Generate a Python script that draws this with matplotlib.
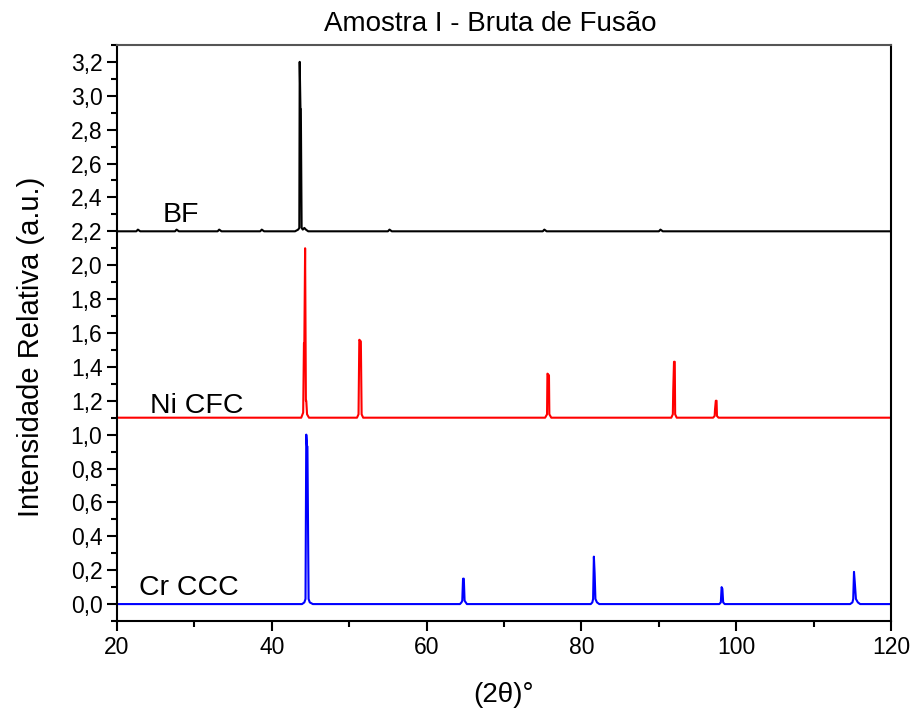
# XRD patterns - Amostra I (bruta de fusao)

import matplotlib.pyplot as plt
from matplotlib.ticker import MultipleLocator, FuncFormatter

plt.rcParams['font.family'] = ['Liberation Sans', 'DejaVu Sans']

# BF (black), baseline 2.2
bf_x = [20, 22.5, 22.7, 23, 27.5, 27.7, 28, 33, 33.2, 33.5, 38.5, 38.7, 39,
        43.0, 43.4, 43.55, 43.6, 43.7, 43.75, 43.85, 44.0, 44.2, 44.4, 44.7,
        55, 55.2, 55.5, 75, 75.2, 75.5, 90, 90.2, 90.5, 120]
bf_y = [2.2, 2.2, 2.21, 2.2, 2.2, 2.21, 2.2, 2.2, 2.21, 2.2, 2.2, 2.21, 2.2,
        2.2, 2.21, 2.22, 3.2, 2.92, 2.92, 2.22, 2.21, 2.22, 2.21, 2.2,
        2.2, 2.21, 2.2, 2.2, 2.21, 2.2, 2.2, 2.21, 2.2, 2.2]

# Ni CFC (red), baseline 1.1
ni_x = [20, 43.8, 44.05, 44.15, 44.2, 44.3, 44.4, 44.45, 44.55, 44.8,
        51.0, 51.2, 51.3, 51.5, 51.6, 51.8,
        75.3, 75.55, 75.6, 75.8, 75.85, 76.1,
        91.6, 91.8, 91.85, 91.95, 92.05, 92.1, 92.3,
        97.0, 97.2, 97.25, 97.35, 97.45, 97.5, 97.7, 120]
ni_y = [1.1, 1.1, 1.13, 1.54, 1.54, 2.1, 1.2, 1.2, 1.12, 1.1,
        1.1, 1.12, 1.56, 1.55, 1.12, 1.1,
        1.1, 1.12, 1.36, 1.35, 1.12, 1.1,
        1.1, 1.12, 1.26, 1.43, 1.43, 1.12, 1.1,
        1.1, 1.11, 1.15, 1.2, 1.2, 1.11, 1.1, 1.1]

# Cr CCC (blue), baseline 0.0
cr_x = [20, 43.9, 44.2, 44.35, 44.45, 44.55, 44.6, 44.75, 44.9, 45.3,
        64.3, 64.5, 64.6, 64.7, 64.8, 64.9, 65.2,
        81.2, 81.4, 81.5, 81.6, 81.7, 81.8, 82.0, 82.3,
        97.8, 98.0, 98.1, 98.2, 98.3, 98.5,
        114.7, 115.0, 115.1, 115.2, 115.3, 115.45, 115.7, 116.0, 120]
cr_y = [0.0, 0.0, 0.01, 0.03, 1.0, 0.93, 0.93, 0.03, 0.01, 0.0,
        0.0, 0.01, 0.02, 0.15, 0.15, 0.02, 0.0,
        0.0, 0.01, 0.03, 0.28, 0.18, 0.03, 0.01, 0.0,
        0.0, 0.01, 0.1, 0.09, 0.01, 0.0,
        0.0, 0.01, 0.03, 0.19, 0.13, 0.03, 0.01, 0.0, 0.0]

labels = ["BF", "Ni CFC", "Cr CCC"]
label_pos = [(25.9, 2.255), (24.3, 1.13), (22.9, 0.053)]

fig = plt.figure(figsize=(9.14, 7.13), dpi=100)
ax = fig.add_axes([0.128, 0.129, 0.847, 0.808])

ax.plot(bf_x, bf_y, color="black", lw=1.5)
ax.plot(ni_x, ni_y, color="red", lw=1.5)
ax.plot(cr_x, cr_y, color="blue", lw=1.5)

for txt, (lx, ly) in zip(labels, label_pos):
    ax.text(lx, ly, txt, fontsize=20.5, va="baseline")

ax.set_xlim(20, 120)
ax.set_ylim(-0.1, 3.3)

ax.xaxis.set_major_locator(MultipleLocator(20))
ax.xaxis.set_minor_locator(MultipleLocator(10))
ax.yaxis.set_major_locator(MultipleLocator(0.2))
ax.yaxis.set_minor_locator(MultipleLocator(0.1))
ax.yaxis.set_major_formatter(FuncFormatter(lambda v, p: ("%.1f" % v).replace(".", ",").replace("-0,0", "0,0")))

ax.tick_params(which="major", direction="out", length=7, width=1.5, labelsize=16.5)
ax.tick_params(which="minor", direction="out", length=4.5, width=1.5)
ax.tick_params(top=False, right=False)

for s in ["left", "bottom", "right"]:
    ax.spines[s].set_linewidth(1.5)
ax.spines["top"].set_color("#555555")
ax.spines["top"].set_linewidth(1.5)

ax.set_xlabel("(2θ)°", fontsize=20)
ax.set_ylabel("Intensidade Relativa (a.u.)", fontsize=21)
ax.xaxis.set_label_coords(0.499, -0.105)
ax.yaxis.set_label_coords(-0.093, 0.476)
ax.set_title("Amostra I - Bruta de Fusão", fontsize=20, x=0.482, pad=10)

fig.savefig("out.png", dpi=100)
